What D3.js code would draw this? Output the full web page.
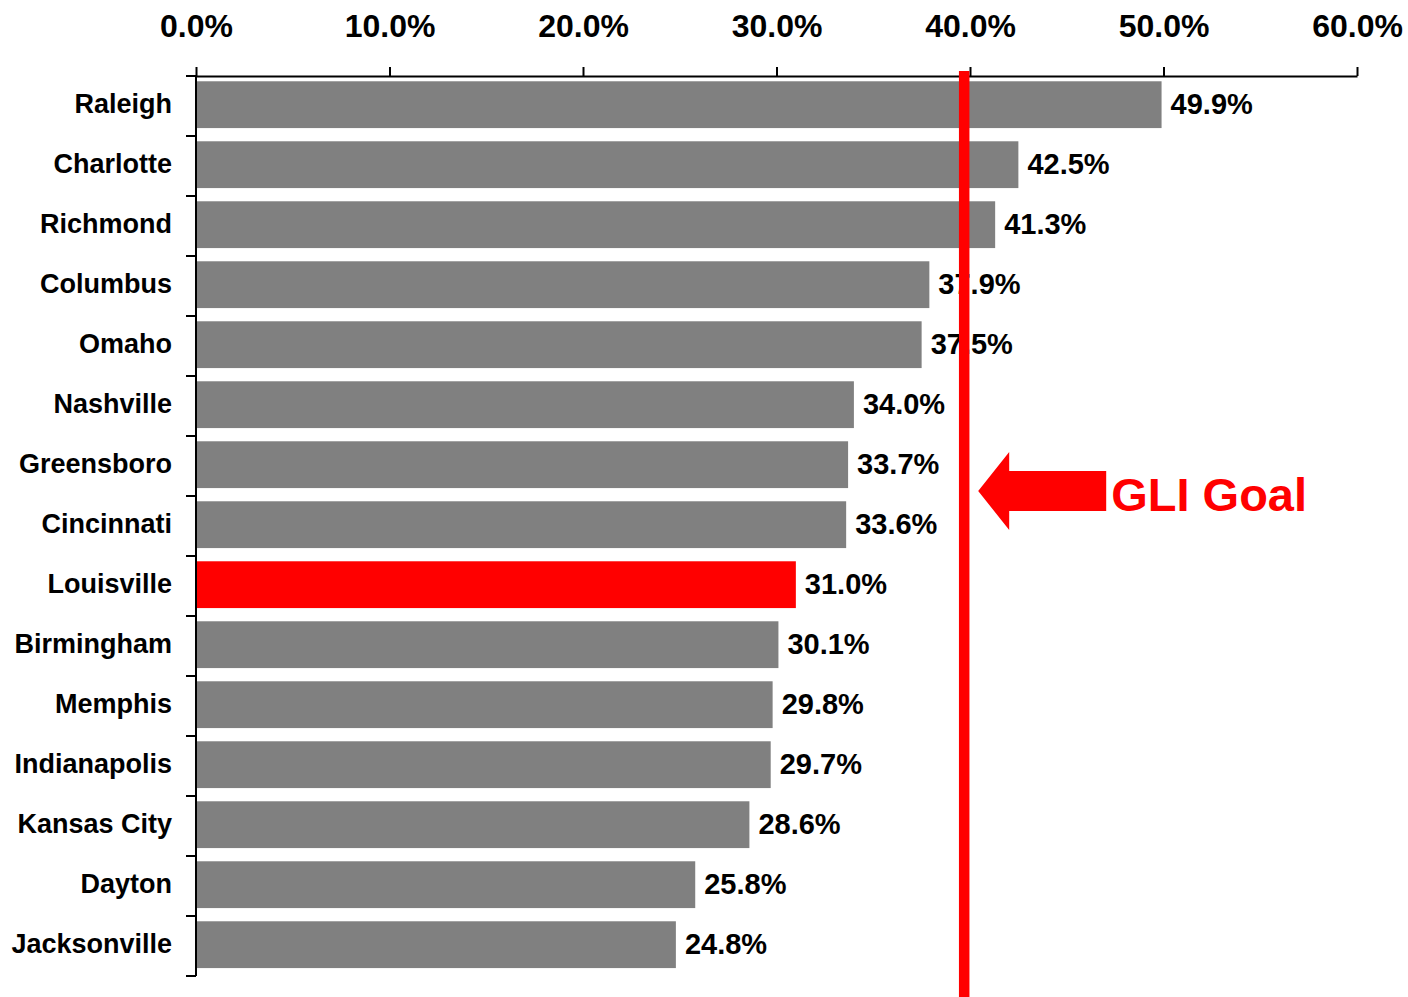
<!DOCTYPE html>
<html>
<head>
<meta charset="utf-8">
<script src="https://cdn.jsdelivr.net/npm/d3@7"></script>
<style>
  html, body { margin: 0; padding: 0; background: #fff; }
  svg { display: block; font-family: "Liberation Sans", Arial, sans-serif; font-weight: bold; }
</style>
</head>
<body>
<svg id="chart" width="1408" height="997"></svg>
<script>
const cities = ["Raleigh","Charlotte","Richmond","Columbus","Omaho","Nashville","Greensboro","Cincinnati","Louisville","Birmingham","Memphis","Indianapolis","Kansas City","Dayton","Jacksonville"];
const values = [49.9, 42.5, 41.3, 37.9, 37.5, 34.0, 33.7, 33.6, 31.0, 30.1, 29.8, 29.7, 28.6, 25.8, 24.8];
const tickValues = [0, 10, 20, 30, 40, 50, 60];
const highlightCity = "Louisville";
const goalValue = 39.7;
const goalLabel = "GLI Goal";

const svg = d3.select("#chart");
const x = d3.scaleLinear().domain([0, 60]).range([196, 1357]);
const y = d3.scaleBand().domain(cities).range([76, 976]).paddingInner(0.22).paddingOuter(0.11).align(0.4);

// bars
svg.append("g").selectAll("rect").data(cities).join("rect")
  .attr("x", x(0))
  .attr("y", d => y(d))
  .attr("width", (d, i) => x(values[i]) - x(0))
  .attr("height", y.bandwidth())
  .attr("fill", d => d === highlightCity ? "#ff0000" : "#808080");

// value labels
svg.append("g").selectAll("text").data(cities).join("text")
  .attr("x", (d, i) => x(values[i]) + 9)
  .attr("y", d => y(d) + y.bandwidth() / 2 - 1.5)
  .attr("dy", "0.36em")
  .attr("font-size", 29)
  .attr("fill", "#000")
  .text((d, i) => values[i].toFixed(1) + "%");

// top axis
const topAxis = svg.append("g").attr("transform", `translate(0,${y.range()[0]})`)
  .call(d3.axisTop(x).tickValues(tickValues).tickSize(9).tickPadding(30).tickSizeOuter(0)
    .tickFormat(d => d.toFixed(1) + "%"));
topAxis.select(".domain").attr("stroke", "#000").attr("stroke-width", 2);
topAxis.selectAll(".tick line").attr("stroke", "#000").attr("stroke-width", 2);
topAxis.selectAll(".tick text").attr("font-size", 32).attr("fill", "#000")
  .attr("font-family", "'Liberation Sans', Arial, sans-serif").attr("font-weight", "bold");

// left axis (ticks at band boundaries)
const leftAxis = svg.append("g");
const y0 = y.range()[0], y1 = y.range()[1];
leftAxis.append("line").attr("x1", x(0)).attr("x2", x(0)).attr("y1", y0).attr("y2", y1)
  .attr("stroke", "#000").attr("stroke-width", 2);
const boundaries = d3.range(cities.length + 1).map(i => y0 + i * y.step());
leftAxis.selectAll("line.tk").data(boundaries).join("line").attr("class", "tk")
  .attr("x1", x(0) - 10).attr("x2", x(0)).attr("y1", d => d).attr("y2", d => d)
  .attr("stroke", "#000").attr("stroke-width", 2);
leftAxis.selectAll("text").data(cities).join("text")
  .attr("x", x(0) - 24)
  .attr("y", d => y0 + cities.indexOf(d) * y.step() + y.step() / 2 - 2.5)
  .attr("dy", "0.36em")
  .attr("text-anchor", "end")
  .attr("font-size", 27)
  .attr("fill", "#000")
  .text(d => d);

// goal line
const gx = x(goalValue);
svg.append("line").attr("x1", gx).attr("x2", gx).attr("y1", 71).attr("y2", 997)
  .attr("stroke", "#ff0000").attr("stroke-width", 10.5);

// arrow annotation
const tipX = gx + 14, tipY = 491;
const arrow = [
  [tipX, tipY], [tipX + 31, tipY - 39], [tipX + 31, tipY - 20], [tipX + 128, tipY - 20],
  [tipX + 128, tipY + 20], [tipX + 31, tipY + 20], [tipX + 31, tipY + 39]
];
svg.append("polygon").attr("points", arrow.map(p => p.join(",")).join(" ")).attr("fill", "#ff0000");
svg.append("text").attr("x", tipX + 133).attr("y", 511)
  .attr("font-size", 47).attr("fill", "#ff0000").text(goalLabel);
</script>
</body>
</html>
